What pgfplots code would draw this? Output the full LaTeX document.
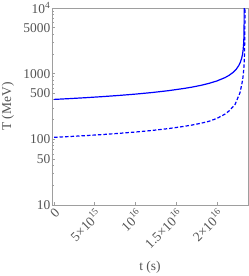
\documentclass[border=0pt]{standalone}
\usepackage{fontspec}
\setmainfont{Liberation Serif}
\usepackage{pgfplots}
\pgfplotsset{compat=1.18}
\definecolor{framegray}{gray}{0.62}
\definecolor{labgray}{gray}{0.33}
\begin{document}
\fontsize{13.5}{16}\selectfont
\begin{tikzpicture}
\path[use as bounding box] (-52bp,-71bp) rectangle (197bp,205bp);
\begin{axis}[
  scale only axis,
  width=196bp, height=197bp,
  ymode=log,
  xmin=-0.25, xmax=23.83,
  ymin=10, ymax=10000,
  axis line style={framegray, line width=0.6bp},
  tick style={framegray, line width=0.6bp},
  major tick length=3.5bp,
  minor tick length=2bp,
  tick align=inside,
  xtick pos=bottom, ytick pos=left,
  xtick={0,5,10,15,20},
  xticklabels={0, 5×10\textsuperscript{15}, 10\textsuperscript{16}, 1.5×10\textsuperscript{16}, 2×10\textsuperscript{16}},
  ytick={10,50,100,500,1000,5000,10000},
  yticklabels={10,50,100,500,1000,5000,10\textsuperscript{4}},
  minor ytick={20,30,40,60,70,80,90,200,300,400,600,700,800,900,2000,3000,4000,6000,7000,8000,9000},
  ticklabel style={font=\fontsize{13.5}{16}\selectfont, text=labgray},
  xticklabel style={rotate=45, anchor=north east, inner sep=1.5bp},
  yticklabel style={inner sep=1.5bp},
  label style={font=\fontsize{13.5}{16}\selectfont, text=labgray},
  xlabel={t (s)},
  ylabel={T (MeV)},
  xlabel style={at={(axis description cs:0.5,0)}, anchor=center, yshift=-62bp},
  ylabel style={at={(axis description cs:0,0.5)}, anchor=center, yshift=44bp},
  clip=true,
]
\addplot[blue, line width=1.2bp] coordinates {
(0,405.5) (2,417.6) (4,431.6) (6,447.6) (8,466.3) (10,488.3) (12,515.4)
(14,549.9) (16,596.0) (17,625.6) (18,662.3) (19,709.6) (20,773.8) (21,870.3)
(21.5,942.3) (22,1046.1) (22.4,1174.9) (22.7,1331.1) (22.9,1501.5) (23.05,1712.5)
(23.15,1949.9) (23.23,2287.8) (23.29,2812.4) (23.32,3388.9) (23.34,4270.4)
(23.35,5380.7) (23.355,6777.8) (23.3584,10000)
};
\addplot[blue, line width=1.2bp, dash pattern=on 3.5bp off 2bp] coordinates {
(0,107.3) (2,110.5) (4,114.2) (6,118.4) (8,123.4) (10,129.2) (12,136.3)
(14,145.5) (16,157.7) (17,165.5) (18,175.2) (19,187.7) (20,208.0) (21,241.8)
(21.5,270.8) (22,315.1) (22.24,339.6) (22.5,405.5) (22.7,464.5) (22.85,514.0)
(23.0,631.0) (23.1,724.0) (23.18,820.0) (23.26,1000) (23.34,1312) (23.39,1862)
(23.42,2818) (23.44,4467) (23.455,7079) (23.462,10000)
};
\end{axis}
\end{tikzpicture}
\end{document}
